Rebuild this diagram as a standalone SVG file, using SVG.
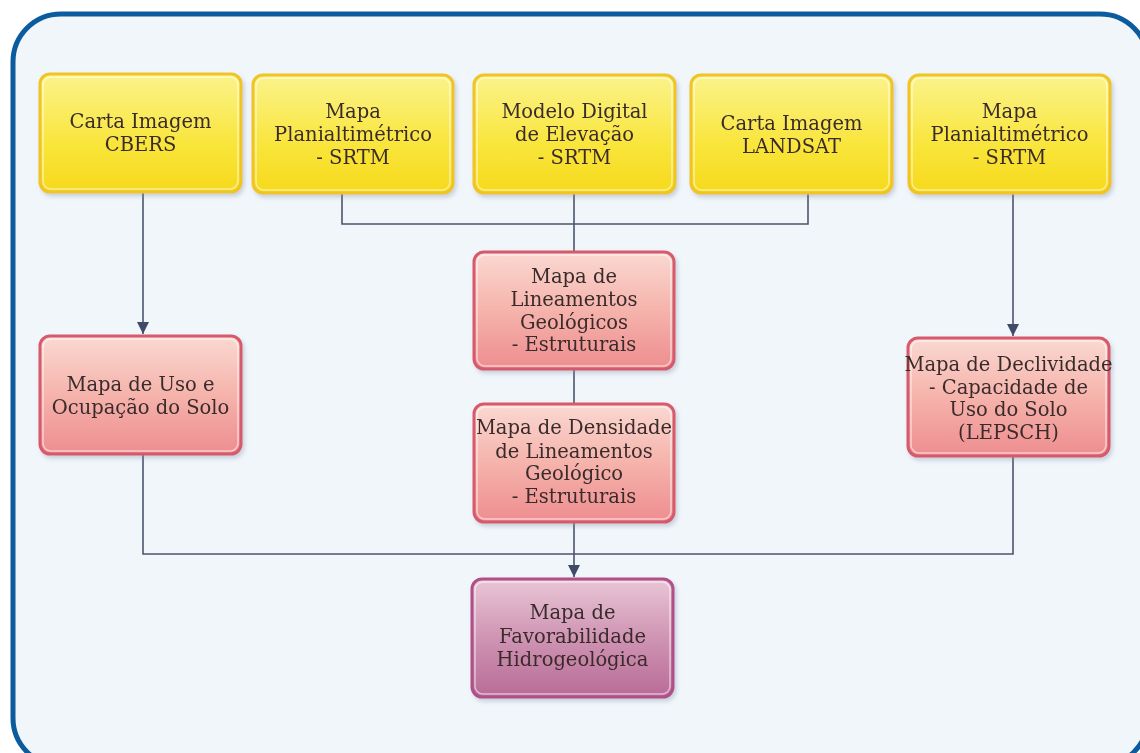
<svg xmlns="http://www.w3.org/2000/svg" width="1140" height="753" viewBox="0 0 1140 753">
<style>
.t{font-family:"DejaVu Serif","Liberation Serif",serif;font-size:19.5px;fill:#3a2c2c;text-anchor:middle}
.y{fill:url(#gy);stroke:#f0c424;stroke-width:3}
.r{fill:url(#gr);stroke:#d75a6c;stroke-width:3}
.p{fill:url(#gp);stroke:#b04f88;stroke-width:3}
.hi{fill:none;stroke:#ffffff;stroke-opacity:0.55;stroke-width:1.5}
.c{fill:none;stroke:#4b556e;stroke-width:1.6}
</style>
<defs>
<linearGradient id="gy" x1="0" y1="0" x2="0" y2="1">
<stop offset="0" stop-color="#fbf38c"/><stop offset="0.6" stop-color="#f9e53a"/><stop offset="1" stop-color="#f6d91c"/>
</linearGradient>
<linearGradient id="gr" x1="0" y1="0" x2="0" y2="1">
<stop offset="0" stop-color="#fad9d2"/><stop offset="0.5" stop-color="#f5b3ab"/><stop offset="1" stop-color="#ee8d8f"/>
</linearGradient>
<linearGradient id="gp" x1="0" y1="0" x2="0" y2="1">
<stop offset="0" stop-color="#e9c6d6"/><stop offset="0.5" stop-color="#cf94b3"/><stop offset="1" stop-color="#b86b97"/>
</linearGradient>
<filter id="sh" x="-10%" y="-10%" width="120%" height="125%">
<feDropShadow dx="2" dy="3" stdDeviation="2" flood-color="#7a8aa0" flood-opacity="0.35"/>
</filter>
<marker id="ar" viewBox="0 0 10 10" refX="10" refY="5" markerWidth="12" markerHeight="12" markerUnits="userSpaceOnUse" orient="auto">
<path d="M0,0 L10,5 L0,10 Z" fill="#3f4b68"/>
</marker>
</defs>
<rect x="0" y="0" width="1140" height="753" fill="#ffffff"/>
<rect x="13" y="14" width="1135" height="752" rx="48" fill="#f1f6fb" stroke="#0b5c9e" stroke-width="5"/>

<g id="connectors">
<path class="c" d="M143,193 V334" marker-end="url(#ar)"/>
<path class="c" d="M342,193 V224 H808 V193"/>
<path class="c" d="M574,193 V252"/>
<path class="c" d="M574,369 V403"/>
<path class="c" d="M1013,193 V336" marker-end="url(#ar)"/>
<path class="c" d="M143,454 V554 H1013 V456"/>
<path class="c" d="M574,522 V577" marker-end="url(#ar)"/>
</g>

<g id="n1" filter="url(#sh)">
<rect class="y" x="40" y="74" width="201" height="118" rx="10"/>
<rect class="hi" x="43" y="77" width="195" height="112" rx="8"/>
<text class="t" x="140.5" y="128">Carta Imagem</text>
<text class="t" x="140.5" y="151">CBERS</text>
</g>
<g id="n2" filter="url(#sh)">
<rect class="y" x="253" y="75" width="200" height="118" rx="10"/>
<rect class="hi" x="256" y="78" width="194" height="112" rx="8"/>
<text class="t" x="353" y="118">Mapa</text>
<text class="t" x="353" y="141">Planialtimétrico</text>
<text class="t" x="353" y="164">- SRTM</text>
</g>
<g id="n3" filter="url(#sh)">
<rect class="y" x="474" y="75" width="201" height="118" rx="10"/>
<rect class="hi" x="477" y="78" width="195" height="112" rx="8"/>
<text class="t" x="574.5" y="118">Modelo Digital</text>
<text class="t" x="574.5" y="141">de Elevação</text>
<text class="t" x="574.5" y="164">- SRTM</text>
</g>
<g id="n4" filter="url(#sh)">
<rect class="y" x="691" y="75" width="201" height="118" rx="10"/>
<rect class="hi" x="694" y="78" width="195" height="112" rx="8"/>
<text class="t" x="791.5" y="130">Carta Imagem</text>
<text class="t" x="791.5" y="153">LANDSAT</text>
</g>
<g id="n5" filter="url(#sh)">
<rect class="y" x="909" y="75" width="201" height="118" rx="10"/>
<rect class="hi" x="912" y="78" width="195" height="112" rx="8"/>
<text class="t" x="1009.5" y="118">Mapa</text>
<text class="t" x="1009.5" y="141">Planialtimétrico</text>
<text class="t" x="1009.5" y="164">- SRTM</text>
</g>
<g id="n6" filter="url(#sh)">
<rect class="r" x="40" y="336" width="201" height="118" rx="10"/>
<rect class="hi" x="43" y="339" width="195" height="112" rx="8"/>
<text class="t" x="140.5" y="391">Mapa de Uso e</text>
<text class="t" x="140.5" y="414">Ocupação do Solo</text>
</g>
<g id="n7" filter="url(#sh)">
<rect class="r" x="474" y="252" width="200" height="117" rx="10"/>
<rect class="hi" x="477" y="255" width="194" height="111" rx="8"/>
<text class="t" x="574" y="283">Mapa de</text>
<text class="t" x="574" y="306">Lineamentos</text>
<text class="t" x="574" y="329">Geológicos</text>
<text class="t" x="574" y="351">- Estruturais</text>
</g>
<g id="n8" filter="url(#sh)">
<rect class="r" x="474" y="404" width="200" height="118" rx="10"/>
<rect class="hi" x="477" y="407" width="194" height="112" rx="8"/>
<text class="t" x="574" y="434">Mapa de Densidade</text>
<text class="t" x="574" y="458">de Lineamentos</text>
<text class="t" x="574" y="480">Geológico</text>
<text class="t" x="574" y="503">- Estruturais</text>
</g>
<g id="n9" filter="url(#sh)">
<rect class="r" x="908" y="338" width="201" height="118" rx="10"/>
<rect class="hi" x="911" y="341" width="195" height="112" rx="8"/>
<text class="t" x="1008.5" y="371">Mapa de Declividade</text>
<text class="t" x="1008.5" y="394">- Capacidade de</text>
<text class="t" x="1008.5" y="416">Uso do Solo</text>
<text class="t" x="1008.5" y="439">(LEPSCH)</text>
</g>
<g id="n10" filter="url(#sh)">
<rect class="p" x="472" y="579" width="201" height="118" rx="10"/>
<rect class="hi" x="475" y="582" width="195" height="112" rx="8"/>
<text class="t" x="572.5" y="619">Mapa de</text>
<text class="t" x="572.5" y="643">Favorabilidade</text>
<text class="t" x="572.5" y="666">Hidrogeológica</text>
</g>
</svg>
